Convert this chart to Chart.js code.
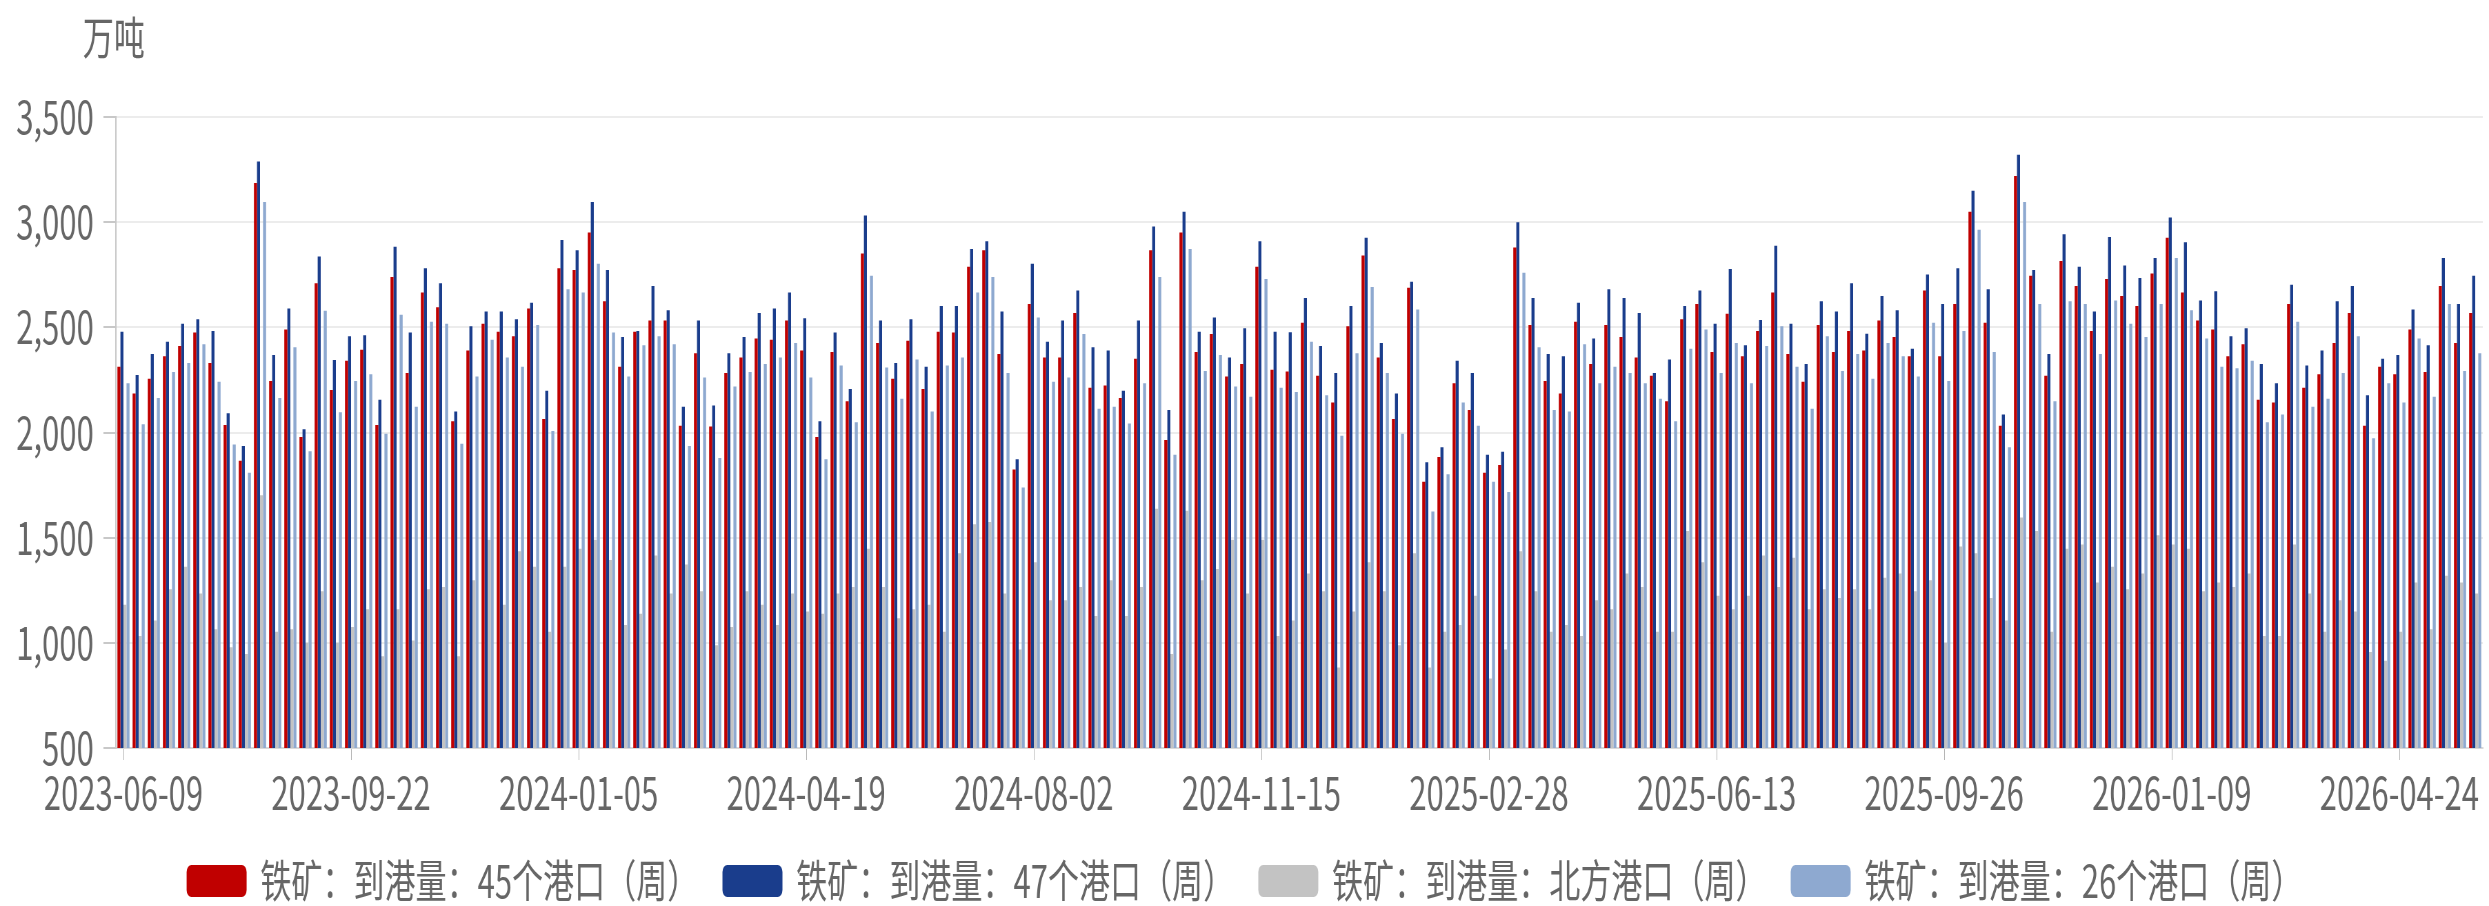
<!DOCTYPE html>
<html lang="zh">
<head>
  <meta charset="UTF-8">
  <title>铁矿到港量</title>
  <script src="https://cdn.jsdelivr.net/npm/chart.js"></script>
  <style>
    body { margin: 0; background: #fff; overflow: hidden; }
  </style>
</head>
<body>
  <!-- drawn wide, then squeezed to 2489px so the text comes out narrow like the source -->
  <canvas id="chart" width="3609" height="906" style="display:block;width:2489px;height:906px"></canvas>

  <script>
    // weekly categories (Fridays), 2023-06-09 onwards
    const firstWeek = Date.UTC(2023, 5, 9);
    const weekCount = 156;
    const weeks = [];
    for (let i = 0; i < weekCount; i++) {
      weeks.push(new Date(firstWeek + i * 7 * 86400000).toISOString().slice(0, 10));
    }

    // labels that are actually shown on the x axis
    const tickLabels = ['2023-06-09', '2023-09-22', '2024-01-05', '2024-04-19', '2024-08-02', '2024-11-15',
      '2025-02-28', '2025-06-13', '2025-09-26', '2026-01-09', '2026-04-24'];

    const yTicks = [500, 1000, 1500, 2000, 2500, 3000, 3500];

    // 铁矿：到港量：45个港口（周）
    const ports45 = [
      2313, 2185, 2256, 2362, 2411, 2475, 2330, 2036, 1866, 3186, 2245, 2490, 1979, 2709, 2202,
      2341, 2394, 2036, 2739, 2283, 2666, 2596, 2053, 2390, 2517, 2479, 2458, 2590, 2064, 2781,
      2773, 2951, 2624, 2313, 2479, 2532, 2532, 2032, 2377, 2028, 2283, 2356, 2447, 2441, 2532,
      2390, 1979, 2383, 2149, 2851, 2426, 2256, 2436, 2207, 2479, 2475, 2788, 2866, 2373, 1824,
      2611, 2356, 2356, 2568, 2213, 2224, 2164, 2351, 2866, 1964, 2951, 2383, 2468, 2266, 2326,
      2788, 2298, 2290, 2522, 2270, 2143, 2505, 2841, 2356, 2064, 2688, 1766, 1883, 2234, 2107,
      1809, 1845, 2879, 2511, 2245, 2185, 2526, 2326, 2511, 2454, 2356, 2270, 2149, 2539, 2611,
      2383, 2564, 2362, 2483, 2666, 2373, 2241, 2511, 2383, 2483, 2390, 2532, 2454, 2362, 2675,
      2362, 2611, 3049, 2522, 2032, 3220, 2745, 2270, 2815, 2696, 2483, 2730, 2649, 2602, 2756,
      2926, 2666, 2532, 2490, 2362, 2419, 2156, 2143, 2611, 2213, 2277, 2426, 2568, 2032, 2313,
      2277, 2490, 2288, 2696, 2426, 2568
    ];

    // 铁矿：到港量：47个港口（周）
    const ports47 = [
      2479, 2273, 2373, 2432, 2517, 2539, 2483, 2092, 1936, 3288, 2368, 2590, 2015, 2837, 2345,
      2458, 2462, 2156, 2883, 2475, 2781, 2709, 2100, 2505, 2575, 2575, 2539, 2617, 2198, 2915,
      2866, 3096, 2773, 2454, 2483, 2696, 2581, 2122, 2532, 2128, 2377, 2454, 2568, 2590, 2666,
      2543, 2053, 2475, 2207, 3032, 2532, 2330, 2539, 2313, 2602, 2602, 2873, 2909, 2575, 1873,
      2802, 2432, 2532, 2675, 2405, 2390, 2198, 2532, 2979, 2107, 3049, 2479, 2547, 2356, 2496,
      2909, 2479, 2477, 2639, 2411, 2283, 2602, 2926, 2426, 2185, 2717, 1858, 1930, 2341, 2283,
      1894, 1909, 3000, 2639, 2373, 2362, 2617, 2447, 2681, 2639, 2568, 2283, 2347, 2602, 2675,
      2517, 2777, 2415, 2535, 2888, 2517, 2326, 2624, 2575, 2709, 2469, 2649, 2581, 2398, 2751,
      2611, 2781, 3149, 2681, 2085, 3320, 2773, 2373, 2943, 2788, 2575, 2930, 2794, 2734, 2830,
      3022, 2905, 2628, 2671, 2458, 2496, 2326, 2234, 2702, 2319, 2390, 2624, 2696, 2177, 2351,
      2368, 2585, 2415, 2830, 2611, 2745
    ];

    // 铁矿：到港量：北方港口（周）
    const northPorts = [
      1181, 1032, 1106, 1255, 1362, 1234, 1064, 979, 947, 1702, 1053, 1064, 1000, 1245, 1000,
      1075, 1160, 936, 1160, 1011, 1255, 1266, 936, 1298, 1490, 1181, 1436, 1362, 1053, 1362,
      1447, 1490, 1394, 1085, 1138, 1415, 1234, 1372, 1245, 989, 1075, 1245, 1181, 1085, 1234,
      1149, 1138, 1234, 1266, 1447, 1266, 1117, 1160, 1181, 1053, 1426, 1564, 1575, 1234, 968,
      1383, 1202, 1202, 1266, 1128, 1298, 1128, 1266, 1638, 947, 1628, 1298, 1351, 1490, 1234,
      1490, 1032, 1106, 1330, 1245, 883, 1149, 1383, 1245, 989, 1426, 883, 1053, 1085, 1224,
      830, 968, 1436, 1245, 1053, 1085, 1032, 1202, 1160, 1330, 1266, 1053, 1053, 1532, 1383,
      1224, 1160, 1224, 1415, 1266, 1404, 1160, 1255, 1213, 1255, 1160, 1309, 1330, 1245, 1298,
      1000, 1458, 1426, 1213, 1106, 1596, 1532, 1053, 1447, 1468, 1287, 1362, 1255, 1330, 1511,
      1468, 1447, 1245, 1287, 1266, 1330, 1032, 1032, 1468, 1234, 1053, 1202, 1149, 957, 915,
      1053, 1287, 1064, 1319, 1287, 1234
    ];

    // 铁矿：到港量：26个港口（周）
    const ports26 = [
      2234, 2039, 2164, 2288, 2330, 2419, 2241, 1943, 1809, 3096, 2164, 2405, 1911, 2579, 2096,
      2245, 2277, 1994, 2560, 2122, 2526, 2517, 1947, 2266, 2441, 2356, 2313, 2511, 2007, 2681,
      2666, 2802, 2475, 2266, 2415, 2458, 2419, 1936, 2262, 1879, 2219, 2288, 2326, 2356, 2426,
      2262, 1873, 2319, 2049, 2745, 2309, 2160, 2347, 2100, 2319, 2356, 2666, 2739, 2283, 1739,
      2547, 2241, 2262, 2468, 2113, 2122, 2043, 2234, 2739, 1894, 2873, 2292, 2368, 2219, 2170,
      2730, 2213, 2192, 2432, 2177, 1985, 2377, 2692, 2283, 1994, 2585, 1624, 1802, 2143, 2032,
      1766, 1717, 2760, 2405, 2107, 2100, 2419, 2234, 2313, 2283, 2234, 2160, 2053, 2398, 2490,
      2283, 2426, 2234, 2411, 2505, 2313, 2113, 2458, 2292, 2373, 2256, 2426, 2362, 2266, 2522,
      2245, 2483, 2964, 2383, 1930, 3096, 2611, 2149, 2624, 2611, 2373, 2628, 2517, 2454, 2611,
      2830, 2581, 2447, 2313, 2305, 2341, 2049, 2085, 2526, 2122, 2160, 2283, 2458, 1973, 2234,
      2143, 2447, 2170, 2611, 2292, 2377
    ];

    const textColor = '#666666';
    const fontFamily = "'Noto Sans CJK SC', 'Noto Sans', sans-serif";
    const fontSize = 45;

    // unit label in the top-left corner
    const unitLabel = {
      id: 'unitLabel',
      afterDraw(chart) {
        const ctx = chart.ctx;
        ctx.save();
        ctx.fillStyle = textColor;
        ctx.font = fontSize + 'px ' + fontFamily;
        ctx.textAlign = 'left';
        ctx.textBaseline = 'middle';
        ctx.fillText('万吨', chart.chartArea.left - 48, 38);
        ctx.restore();
      }
    };

    // legend row along the bottom (the built-in one can't space items this wide)
    const bottomLegend = {
      id: 'bottomLegend',
      afterDraw(chart) {
        const ctx = chart.ctx;
        const boxW = 87, boxH = 32, textGap = 20, itemGap = 35, midY = 881;
        ctx.save();
        ctx.font = fontSize + 'px ' + fontFamily;
        ctx.textBaseline = 'middle';
        ctx.textAlign = 'left';
        const items = chart.data.datasets.map(ds => ({
          text: ds.label,
          color: ds.backgroundColor,
          w: boxW + textGap + ctx.measureText(ds.label).width
        }));
        const total = items.reduce((s, it) => s + it.w, 0) + itemGap * (items.length - 1);
        let x = (chart.width - total) / 2;
        items.forEach(it => {
          ctx.fillStyle = it.color;
          ctx.beginPath();
          ctx.roundRect(x, midY - boxH / 2, boxW, boxH, 7);
          ctx.fill();
          ctx.fillStyle = textColor;
          ctx.fillText(it.text, x + boxW + textGap, midY);
          x += it.w + itemGap;
        });
        ctx.restore();
      }
    };

    function series(label, data, color) {
      return {
        label: label,
        data: data,
        backgroundColor: color,
        borderWidth: 0,
        categoryPercentage: 0.8,
        barPercentage: 1.0
      };
    }

    new Chart(document.getElementById('chart'), {
      type: 'bar',
      data: {
        labels: weeks,
        datasets: [
          series('铁矿：到港量：45个港口（周）', ports45, '#C00000'),
          series('铁矿：到港量：47个港口（周）', ports47, '#1A3D8C'),
          series('铁矿：到港量：北方港口（周）', northPorts, '#C3C3C3'),
          series('铁矿：到港量：26个港口（周）', ports26, '#8EA9D0')
        ]
      },
      options: {
        responsive: false,
        animation: false,
        devicePixelRatio: 1,
        locale: 'en-US',
        layout: { padding: { top: 117, right: 9, bottom: 88, left: 0 } },
        font: { family: fontFamily },
        plugins: {
          tooltip: { enabled: false },
          legend: { display: false }
        },
        scales: {
          x: {
            offset: true,
            afterFit(scale) { scale.height = 70; },
            grid: {
              offset: false,
              drawOnChartArea: false,
              tickLength: 12,
              tickColor: (c) => tickLabels.includes(weeks[c.index]) ? '#b0b0b0' : 'rgba(0,0,0,0)'
            },
            border: { color: '#d9d9d9', width: 2 },
            ticks: {
              autoSkip: false,
              maxRotation: 0,
              minRotation: 0,
              padding: 6,
              color: textColor,
              font: { size: fontSize, family: fontFamily },
              callback: (v, i) => tickLabels.includes(weeks[i]) ? weeks[i] : ''
            }
          },
          y: {
            min: yTicks[0],
            max: yTicks[yTicks.length - 1],
            afterFit(scale) { scale.width = 168; },
            afterBuildTicks(scale) { scale.ticks = yTicks.map(v => ({ value: v })); },
            grid: {
              color: '#ececec',
              lineWidth: 2,
              tickLength: 18,
              tickColor: '#c8c8c8'
            },
            border: { color: '#c8c8c8', width: 2 },
            ticks: {
              padding: 14,
              color: textColor,
              font: { size: fontSize, family: fontFamily }
            }
          }
        }
      },
      plugins: [unitLabel, bottomLegend]
    });
  </script>
</body>
</html>
